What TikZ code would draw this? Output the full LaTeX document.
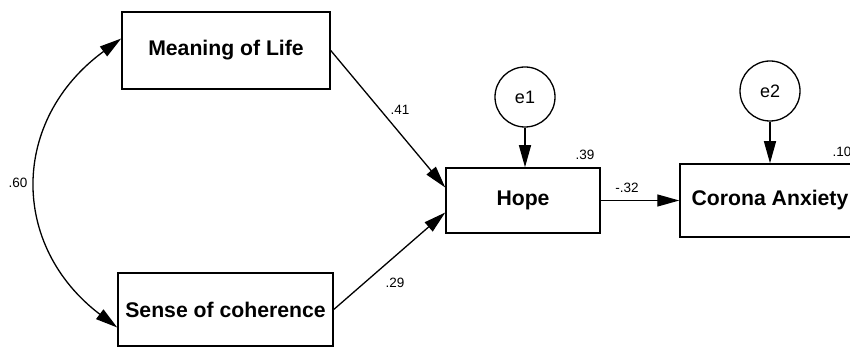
\documentclass[tikz,border=0pt]{standalone}
\usepackage{fontspec}
\setmainfont{Liberation Sans}
\usetikzlibrary{arrows.meta}
\begin{document}
\begin{tikzpicture}[x=1pt,y=-1pt,
  box/.style={draw,line width=1.5pt,inner sep=0pt,font=\fontsize{21.2}{24}\selectfont\bfseries},
  err/.style={draw,circle,line width=1.3pt,minimum size=60pt,inner sep=0pt,font=\fontsize{18}{21}\selectfont},
  lbl/.style={font=\fontsize{13.5}{16}\selectfont,inner sep=0pt},
  arr/.style={line width=1.3pt,-{Triangle[length=22pt,width=12pt]}},
  darr/.style={line width=1.3pt,{Triangle[length=22pt,width=12pt]}-{Triangle[length=22pt,width=12pt]}}]
\useasboundingbox (0,0) rectangle (850,347);
\fill[white] (0,0) rectangle (850,347);
\node[box,minimum width=208pt,minimum height=77pt] (ml) at (226,50.5) {Meaning of Life};
\node[box,minimum width=215pt,minimum height=73pt] (sc) at (225.5,309.5) {Sense of coherence};
\node[box,minimum width=154pt,minimum height=65pt] (hope) at (523,200.5) {Hope};
\node[box,minimum width=180pt,minimum height=73pt] (ca) at (770,200.5) {Corona Anxiety};
\node[err] (e1) at (525,97) {e1};
\node[err] (e2) at (770,91) {e2};
\draw[arr] (ml.east) -- ([yshift=13pt]hope.west);
\draw[arr] (sc.east) -- ([yshift=-12pt]hope.west);
\draw[arr] (e1.south) -- (e1.south |- hope.north);
\draw[arr] (e2.south) -- (e2.south |- ca.north);
\draw[arr] (hope.east) -- (ca.west);
\draw[darr] ([yshift=12pt]ml.west) .. controls (10,120) and (10,246) .. ([yshift=-18pt]sc.west);
\node[lbl] (l41) at (400,110) {.41};
\node[lbl] (l29) at (395,283) {.29};
\node[lbl] (l60) at (18,183) {.60};
\node[lbl] (l39) at (585,155) {.39};
\node[lbl] (l10) at (842,152) {.10};
\node[lbl] (l32) at (627,188) {-.32};
\end{tikzpicture}
\end{document}
